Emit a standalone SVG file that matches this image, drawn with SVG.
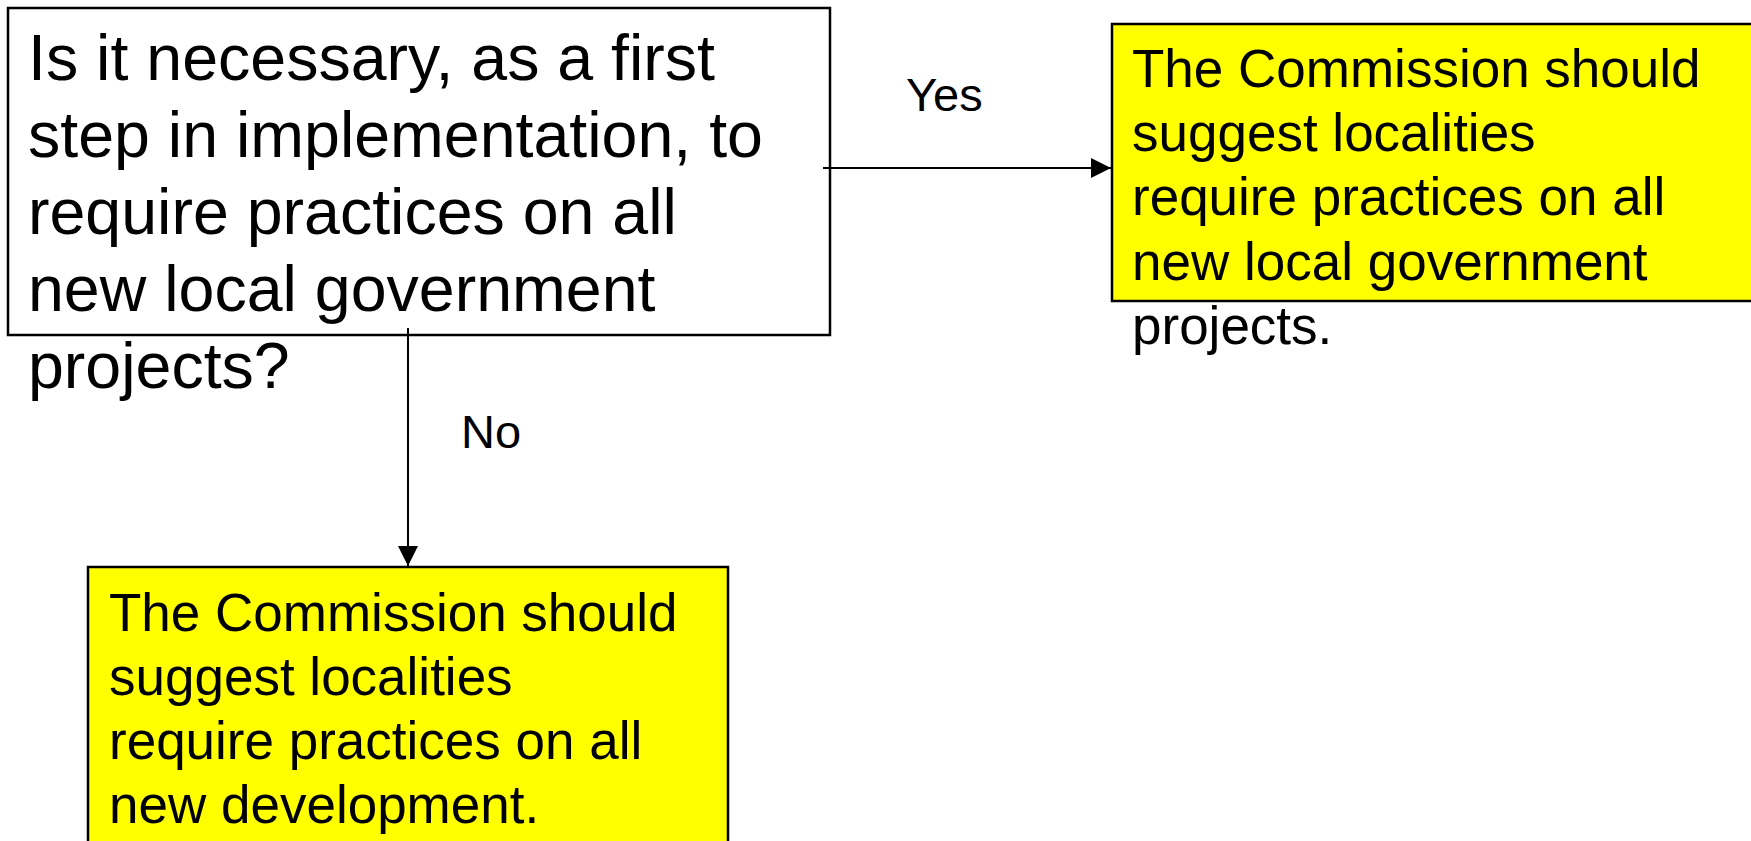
<svg xmlns="http://www.w3.org/2000/svg" width="1751" height="841" viewBox="0 0 1751 841">
  <style>
    .box { stroke: #000; stroke-width: 2.5; }
    .q { fill: #fff; }
    .ans { fill: #ffff00; }
    .t { font-family: "Liberation Sans", Arial, sans-serif; fill: #000; }
    .big { font-size: 64.5px; }
    .mid { font-size: 53px; }
    .lbl { font-size: 47px; }
    .conn { stroke: #000; stroke-width: 2; fill: none; }
  </style>
  <defs>
    <marker id="arrow" markerWidth="20" markerHeight="20" refX="20" refY="10" orient="auto" markerUnits="userSpaceOnUse" viewBox="0 0 20 20">
      <path d="M0,0 L20,10 L0,20 Z" fill="#000"/>
    </marker>
  </defs>
  <rect width="1751" height="841" fill="#fff"/>

  <g id="question">
    <rect class="box q" x="8" y="8" width="822" height="327"/>
    <text class="t big">
      <tspan x="28" y="80">Is it necessary, as a first</tspan>
      <tspan x="28" y="157">step in implementation, to</tspan>
      <tspan x="28" y="234">require practices on all</tspan>
      <tspan x="28" y="311">new local government</tspan>
      <tspan x="28" y="388">projects?</tspan>
    </text>
  </g>

  <g id="yes-answer">
    <rect class="box ans" x="1112" y="24" width="650" height="277"/>
    <text class="t mid">
      <tspan x="1132" y="87">The Commission should</tspan>
      <tspan x="1132" y="151">suggest localities</tspan>
      <tspan x="1132" y="215">require practices on all</tspan>
      <tspan x="1132" y="280">new local government</tspan>
      <tspan x="1132" y="344">projects.</tspan>
    </text>
  </g>

  <g id="no-answer">
    <rect class="box ans" x="88" y="567" width="640" height="290"/>
    <text class="t mid">
      <tspan x="109" y="631">The Commission should</tspan>
      <tspan x="109" y="695">suggest localities</tspan>
      <tspan x="109" y="759">require practices on all</tspan>
      <tspan x="109" y="823">new development.</tspan>
    </text>
  </g>

  <g id="connectors">
    <line class="conn" x1="823" y1="168" x2="1111" y2="168" marker-end="url(#arrow)"/>
    <line class="conn" x1="408" y1="328" x2="408" y2="566" marker-end="url(#arrow)"/>
    <text class="t lbl" x="906" y="111">Yes</text>
    <text class="t lbl" x="461" y="448">No</text>
  </g>
</svg>
